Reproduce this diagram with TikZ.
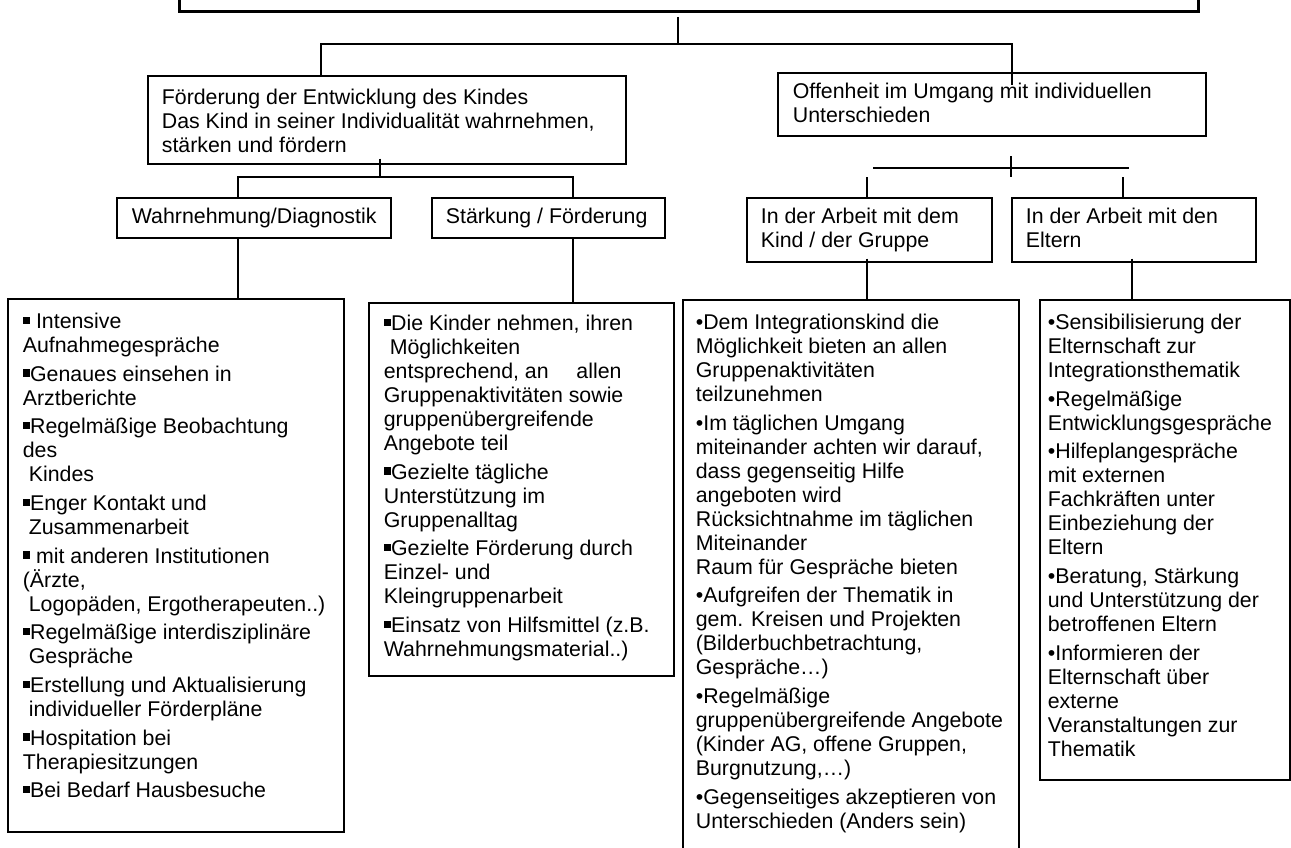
\documentclass[tikz,border=0pt]{standalone}
\usepackage{fontspec}
\setmainfont{Liberation Sans}
\usetikzlibrary{positioning,calc}
\newcommand{\sq}{\rule[0.2em]{0.34em}{0.34em}}
\newcommand{\lsp}{\hspace*{0.28em}}
% width, height, left pad, top pad (px), text
\newcommand{\cell}[5]{\parbox[c][\dimexpr#2pt*3/4\relax][t]{\dimexpr#1pt*3/4\relax}{\raggedright\leftskip=\dimexpr#3pt*3/4\relax\parskip=3.5pt\vspace*{\dimexpr#4pt*3/4\relax}\strut#5}}

\begin{document}
\begin{tikzpicture}[x=0.75pt,y=-0.75pt,
  box/.style={draw,line width=1.3pt,inner sep=0pt,anchor=north west,font=\fontsize{16}{18}\selectfont},
  link/.style={line width=1.2pt}]
\useasboundingbox (0,0) rectangle (1291,847);
\clip (0,0) rectangle (1291,847);
\fill[white] (0,0) rectangle (1291,847);

\node[box,line width=2.2pt,minimum width=764.25pt,minimum height=45pt] (top) at (178,-50) {};

\node[box] (ka) at (147,75) {\cell{478}{88}{14}{7.5}{Förderung der Entwicklung des Kindes\\Das Kind in seiner Individualität wahrnehmen,\\stärken und fördern}};
\node[box] (ko) at (777,72) {\cell{428}{63}{15}{4.5}{Offenheit im Umgang mit individuellen\\Unterschieden}};

\node[box] (kw) at (116,197) {\cell{274}{40}{15}{4.5}{Wahrnehmung/Diagnostik}};
\node[box] (ks) at (431,197) {\cell{233}{40}{14}{4.5}{Stärkung / Förderung}};
\node[box] (kg) at (746,197) {\cell{245}{64}{14}{4.5}{In der Arbeit mit dem\\Kind / der Gruppe}};
\node[box] (ke) at (1011,197) {\cell{244}{64}{14}{4.5}{In der Arbeit mit den\\Eltern}};

\node[box] (b1) at (7,298) {\cell{336}{533}{15}{8}{%
\sq\ Intensive\\Aufnahmegespräche\par
\sq Genaues einsehen in\\Arztberichte\par
\sq Regelmäßige Beobachtung\\des\\\lsp Kindes\par
\sq Enger Kontakt und\\\lsp Zusammenarbeit\par
\sq\ mit anderen Institutionen\\(Ärzte,\\\lsp Logopäden, Ergotherapeuten..)\par
\sq Regelmäßige interdisziplinäre\\\lsp Gespräche\par
\sq Erstellung und Aktualisierung\\\lsp individueller Förderpläne\par
\sq Hospitation bei\\Therapiesitzungen\par
\sq Bei Bedarf Hausbesuche}};

\node[box] (b2) at (368,302) {\cell{305}{373}{15}{6}{%
\sq Die Kinder nehmen, ihren\\\lsp Möglichkeiten\\entsprechend, an\hspace{1.3em}allen\\Gruppenaktivitäten sowie\\gruppenübergreifende\\Angebote teil\par
\sq Gezielte tägliche\\Unterstützung im\\Gruppenalltag\par
\sq Gezielte Förderung durch\\Einzel- und\\Kleingruppenarbeit\par
\sq Einsatz von Hilfsmittel (z.B.\\Wahrnehmungsmaterial..)}};

\node[box] (b3) at (682,299) {\cell{336}{570}{13}{8}{%
•Dem Integrationskind die\\Möglichkeit bieten an allen\\Gruppenaktivitäten\\teilzunehmen\par
•Im täglichen Umgang\\miteinander achten wir darauf,\\dass gegenseitig Hilfe\\angeboten wird\\Rücksichtnahme im täglichen\\Miteinander\\Raum für Gespräche bieten\par
•Aufgreifen der Thematik in\\gem. Kreisen und Projekten\\(Bilderbuchbetrachtung,\\Gespräche…)\par
•Regelmäßige\\gruppenübergreifende Angebote\\(Kinder AG, offene Gruppen,\\Burgnutzung,…)\par
•Gegenseitiges akzeptieren von\\Unterschieden (Anders sein)}};

\node[box] (b4) at (1039,299) {\cell{250}{480}{8}{8}{%
•Sensibilisierung der\\Elternschaft zur\\Integrationsthematik\par
•Regelmäßige\\Entwicklungsgespräche\par
•Hilfeplangespräche\\mit externen\\Fachkräften unter\\Einbeziehung der\\Eltern\par
•Beratung, Stärkung\\und Unterstützung der\\betroffenen Eltern\par
•Informieren der\\Elternschaft über\\externe\\Veranstaltungen zur\\Thematik}};

\coordinate (j0) at (678,44);
\coordinate (j1) at (321,44);
\coordinate (j2) at (1012,44);
\coordinate (j3) at (380,177);
\coordinate (j4) at (238,177);
\coordinate (j5) at (573,177);
\coordinate (hl) at (873,168);
\coordinate (hc) at (1011,168);
\coordinate (hr) at (1129,168);
\coordinate (gl) at (867,177);
\coordinate (gr) at (1123,177);
\coordinate (ge) at (1132,257);

\draw[link] ($(top.south -| j0)+(0,4)$) -- (j0);
\draw[link] (j1 |- ka.north) -- (j1) -- (j2) -- ($(j2 |- ko.north)+(0,13)$);
\draw[link] ($(ka.south -| j3)+(0,-6)$) -- (j3);
\draw[link] (j4 |- kw.north) -- (j4) -- (j5) -- (j5 |- ks.north);
\draw[link] (kw.south -| j4) -- (j4 |- b1.north);
\draw[link] (ks.south -| j5) -- (j5 |- b2.north);
\draw[link] (hl) -- (hr);
\draw[link] ($(hc)+(0,-12)$) -- ($(hc)+(0,9)$);
\draw[link] (gl) -- (gl |- kg.north);
\draw[link] (gr) -- (gr |- ke.north);
\draw[link] ($(kg.south -| gl)+(0,-4)$) -- (gl |- b3.north);
\draw[link] ($(ke.south -| ge)+(0,-4)$) -- (ge |- b4.north);
\end{tikzpicture}
\end{document}
